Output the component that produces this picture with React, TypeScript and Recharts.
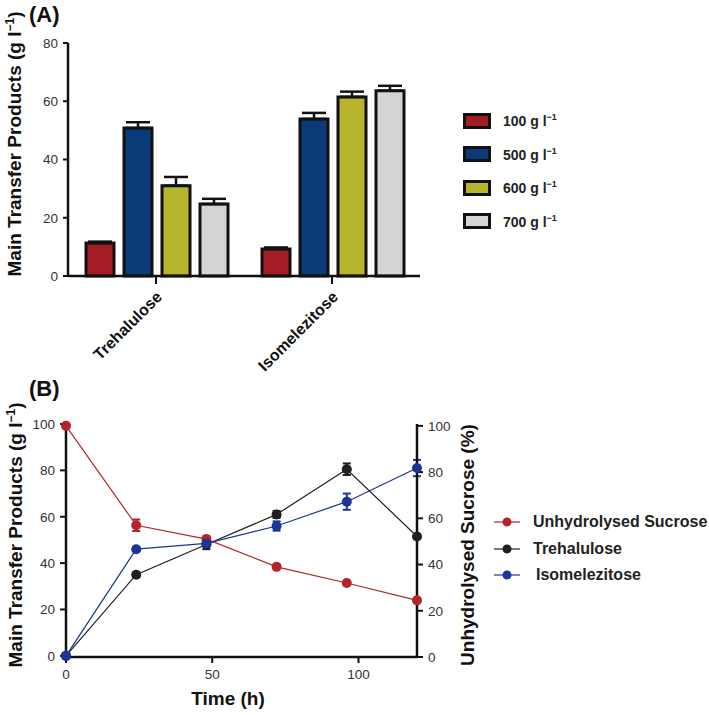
import React from "react";
import { BarChart, Bar, XAxis, YAxis, ErrorBar, LineChart, Line, Legend } from "recharts";

// Panel A: main transfer products by initial sucrose concentration
const products = ["Trehalulose", "Isomelezitose"];
const sucrose100 = [11.3, 9.3];
const sucrose500 = [50.8, 53.9];
const sucrose600 = [31.0, 61.5];
const sucrose700 = [24.7, 63.6];
const err100 = [0.5, 0.5];
const err500 = [2.0, 2.1];
const err600 = [3.0, 1.8];
const err700 = [1.8, 1.7];

// Panel B: time course
const hours = [0, 24, 48, 72, 96, 120];
const unhydrolysed = [100, 57, 51, 39, 32, 24.5];
const trehalulose = [0, 35, 48, 61, 80.5, 51.5];
const isomelezitose = [0, 46, 48.5, 56, 66.5, 81];
const unhydrolysedErr = [0.8, 2.5, 1.2, 0.8, 0.8, 0.8];
const trehaluloseErr = [0.5, 0.8, 2.0, 1.5, 2.5, 1.0];
const isomelezitoseErr = [0.5, 0.8, 1.0, 2.0, 3.5, 3.5];

const FONT = '"Liberation Sans", Arial, sans-serif';

const barSeries = [
  { key: "c100", label: "100", fill: "#a51d24" },
  { key: "c500", label: "500", fill: "#0b3a78" },
  { key: "c600", label: "600", fill: "#b7b52a" },
  { key: "c700", label: "700", fill: "#d4d4d4" },
];

const barData = products.map((name, i) => ({
  name,
  c100: sucrose100[i],
  c500: sucrose500[i],
  c600: sucrose600[i],
  c700: sucrose700[i],
  e100: [0, err100[i]],
  e500: [0, err500[i]],
  e600: [0, err600[i]],
  e700: [0, err700[i]],
}));

const lineData = hours.map((t, i) => ({
  t,
  su: unhydrolysed[i],
  tr: trehalulose[i],
  iso: isomelezitose[i],
  suE: unhydrolysedErr[i],
  trE: trehaluloseErr[i],
  isoE: isomelezitoseErr[i],
}));

const lineSeries = [
  { key: "su", err: "suE", name: "Unhydrolysed Sucrose", color: "#b1252b", axis: "right" },
  { key: "tr", err: "trE", name: "Trehalulose", color: "#231f20", axis: "left" },
  { key: "iso", err: "isoE", name: "Isomelezitose", color: "#1b3594", axis: "left" },
];

const CatTick = (props: any) => {
  const { x, y, payload } = props;
  return (
    <g transform={`translate(${x + 7},${y + 12})`}>
      <text textAnchor="end" transform="rotate(-45)" fontFamily={FONT} fontWeight="bold" fontSize={16} fill="#111">
        {payload.value}
      </text>
    </g>
  );
};

const BarLegend = () => (
  <div style={{ fontFamily: FONT }}>
    {barSeries.map((s) => (
      <div key={s.key} style={{ display: "flex", alignItems: "center", height: 33.5 }}>
        <div style={{ width: 22, height: 10, background: s.fill, border: "3px solid #111" }} />
        <span style={{ marginLeft: 12, fontSize: 14, fontWeight: "bold", color: "#222" }}>
          {s.label} g l<sup style={{ fontSize: 9 }}>−1</sup>
        </span>
      </div>
    ))}
  </div>
);

const LineLegend = () => (
  <div style={{ fontFamily: FONT }}>
    {lineSeries.map((s, i) => (
      <div key={s.key} style={{ display: "flex", alignItems: "center", height: 26.5 }}>
        <svg width={26} height={12}>
          <line x1={0} y1={6} x2={26} y2={6} stroke={s.color} strokeWidth={1.2} />
          <circle cx={13} cy={6} r={4.5} fill={s.color} />
        </svg>
        <span style={{ marginLeft: i === 2 ? 16 : 13, fontSize: 16, fontWeight: "bold", color: "#222", whiteSpace: "nowrap" }}>{s.name}</span>
      </div>
    ))}
  </div>
);

const axisLine = { stroke: "#111", strokeWidth: 2.5 };
const tickLine = { stroke: "#111", strokeWidth: 2 };
const tickText = { fill: "#333", fontSize: 13.5, fontFamily: FONT };

export default function App() {
  return (
    <div style={{ position: "absolute", left: 0, top: 0, width: 709, height: 715, background: "#fff", fontFamily: FONT }}>
      <div style={{ position: "absolute", left: 0, top: 0 }}>
        <BarChart width={709} height={400} data={barData} margin={{ top: 43, right: 289, bottom: 0, left: 0 }} barCategoryGap={18} barGap={10}>
          <XAxis dataKey="name" height={124} interval={0} tick={<CatTick />} axisLine={axisLine} tickLine={tickLine} tickSize={8} />
          <YAxis width={68} domain={[0, 80]} ticks={[0, 20, 40, 60, 80]} axisLine={axisLine} tickLine={tickLine} tickSize={5} tickMargin={5} tick={tickText} />
          {barSeries.map((s) => (
            <Bar key={s.key} dataKey={s.key} fill={s.fill} stroke="#111" strokeWidth={3} isAnimationActive={false}>
              <ErrorBar dataKey={"e" + s.key.slice(1)} width={12} stroke="#111" strokeWidth={2.5} direction="y" />
            </Bar>
          ))}
          <Legend layout="vertical" align="center" verticalAlign="middle" content={<BarLegend />} wrapperStyle={{ left: 463, top: 104, width: 150, height: 140 }} />
        </BarChart>
      </div>
      <div style={{ position: "absolute", left: 0, top: 360 }}>
        <LineChart width={709} height={360} data={lineData} margin={{ top: 64, right: 232, bottom: 0, left: 0 }}>
          <XAxis dataKey="t" type="number" domain={[0, 120]} ticks={[0, 50, 100]} height={63} axisLine={axisLine} tickLine={tickLine} tickSize={6} tickMargin={6} tick={tickText} />
          <YAxis yAxisId="left" width={66} domain={[0, 100]} ticks={[0, 20, 40, 60, 80, 100]} axisLine={axisLine} tickLine={tickLine} tickSize={6} tickMargin={5} tick={tickText} />
          <YAxis yAxisId="right" orientation="right" width={60} domain={[0, 100]} ticks={[0, 20, 40, 60, 80, 100]} axisLine={axisLine} tickLine={tickLine} tickSize={6} tickMargin={5} tick={tickText} />
          {lineSeries.map((s) => (
            <Line
              key={s.key}
              yAxisId={s.axis}
              dataKey={s.key}
              name={s.name}
              stroke={s.color}
              strokeWidth={1.2}
              dot={{ r: 5, fill: s.color, stroke: s.color, strokeWidth: 0 }}
              isAnimationActive={false}
            >
              <ErrorBar dataKey={s.err} width={4} stroke={s.color} strokeWidth={2} direction="y" />
            </Line>
          ))}
          <Legend layout="vertical" align="center" verticalAlign="middle" content={<LineLegend />} wrapperStyle={{ left: 494, top: 149, width: 215, height: 80 }} />
        </LineChart>
      </div>
      <svg width={709} height={715} style={{ position: "absolute", left: 0, top: 0, pointerEvents: "none" }} fontFamily={FONT}>
        <text x={29} y={22} fontSize={22} fontWeight="bold" fill="#111">(A)</text>
        <text x={29} y={396} fontSize={22} fontWeight="bold" fill="#111">(B)</text>
        <text transform="translate(21,144) rotate(-90)" textAnchor="middle" fontSize={19} fontWeight="bold" fill="#111">
          Main Transfer Products (g l<tspan fontSize={12} dy={-7}>−1</tspan><tspan dy={7}>)</tspan>
        </text>
        <text transform="translate(22,535) rotate(-90)" textAnchor="middle" fontSize={19} fontWeight="bold" fill="#111">
          Main Transfer Products (g l<tspan fontSize={12} dy={-7}>−1</tspan><tspan dy={7}>)</tspan>
        </text>
        <text transform="translate(474,545) rotate(-90)" textAnchor="middle" fontSize={19} fontWeight="bold" fill="#111">
          Unhydrolysed Sucrose (%)
        </text>
        <text x={228} y={705} textAnchor="middle" fontSize={19} fontWeight="bold" fill="#111">Time (h)</text>
      </svg>
    </div>
  );
}
